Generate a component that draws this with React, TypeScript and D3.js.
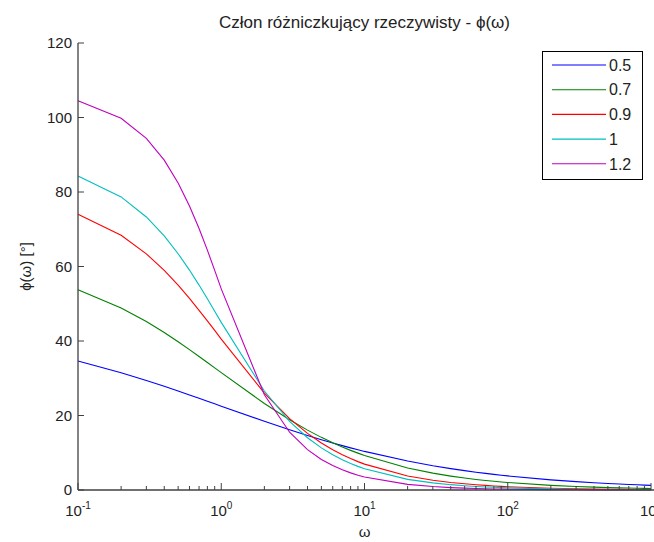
import React from "react";
import * as d3 from "d3";

const omega = [0.1,0.2,0.3,0.4,0.5,0.6,0.7,0.8,0.9,1,2,3,4,5,6,7,8,9,10,20,30,40,50,60,70,80,90,100,200,300,400,500,600,700,800,900,1000];
const phi05 = [34.64,31.49,29.40,27.83,26.57,25.51,24.61,23.82,23.13,22.50,18.43,16.17,14.64,13.51,12.63,11.91,11.31,10.80,10.36,7.78,6.52,5.74,5.19,4.78,4.46,4.19,3.97,3.78,2.73,2.25,1.96,1.76,1.61,1.49,1.40,1.32,1.25];
const phi07 = [53.74,48.86,45.21,42.27,39.80,37.69,35.85,34.23,32.80,31.50,23.21,18.84,16.07,14.13,12.68,11.55,10.64,9.90,9.26,5.92,4.52,3.73,3.20,2.83,2.55,2.33,2.15,2.00,1.24,0.93,0.76,0.65,0.58,0.52,0.47,0.43,0.40];
const phi09 = [74.05,68.38,63.39,58.94,54.97,51.42,48.24,45.39,42.83,40.50,26.03,19.15,15.19,12.61,10.81,9.48,8.45,7.62,6.95,3.77,2.63,2.03,1.67,1.41,1.23,1.09,0.98,0.89,0.48,0.33,0.26,0.21,0.18,0.16,0.14,0.12,0.11];
const phi10 = [84.29,78.69,73.30,68.20,63.43,59.04,55.01,51.34,48.01,45.00,26.57,18.43,14.04,11.31,9.46,8.13,7.13,6.34,5.71,2.86,1.91,1.43,1.15,0.95,0.82,0.72,0.64,0.57,0.29,0.19,0.14,0.11,0.10,0.08,0.07,0.06,0.06];
const phi12 = [104.50,99.79,94.40,88.56,82.44,76.25,70.18,64.39,58.97,54.00,25.56,15.50,10.84,8.21,6.56,5.42,4.60,3.98,3.50,1.51,0.93,0.65,0.50,0.40,0.33,0.28,0.25,0.22,0.09,0.06,0.04,0.03,0.03,0.02,0.02,0.02,0.01];

const seriesNames = ["0.5", "0.7", "0.9", "1", "1.2"];
const seriesValues = [phi05, phi07, phi09, phi10, phi12];
const seriesColors = ["#0000ff", "#008000", "#ff0000", "#00bfbf", "#bf00bf"];

const yTicks = [0, 20, 40, 60, 80, 100, 120];
const xMajor = [-1, 0, 1, 2, 3];

const title = "Człon różniczkujący rzeczywisty - ϕ(ω)";
const xLabel = "ω";
const yLabel = "ϕ(ω) [°]";

const W = 654, H = 542;
const L = 78, R = 651, T = 43, B = 490;
const FONT = "Arial, 'Liberation Sans', Helvetica, sans-serif";

export default function App() {
  const x = d3.scaleLog().domain([0.1, 1000]).range([L, R]);
  const y = d3.scaleLinear().domain([0, 120]).range([B, T]);
  const line = d3.line<[number, number]>().x(d => x(d[0])).y(d => y(d[1]));

  const minor: number[] = [];
  for (let e = -1; e < 3; e++) {
    for (let k = 2; k <= 9; k++) minor.push(k * Math.pow(10, e));
  }

  const axisColor = "#404040";
  const legX = 542.5, legY = 51.5, legW = 100, legH = 128;

  return (
    <svg width={W} height={H} style={{ position: "absolute", left: 0, top: 0, background: "#fff" }}
      fontFamily={FONT}>
      <rect x={0} y={0} width={W} height={H} fill="#fff" />
      {seriesValues.map((vals, i) => (
        <path key={i} d={line(omega.map((w, j) => [w, vals[j]] as [number, number])) || ""}
          fill="none" stroke={seriesColors[i]} strokeWidth={1.1} />
      ))}
      {/* axes */}
      <line x1={L} x2={L} y1={T} y2={B} stroke={axisColor} strokeWidth={1.3} />
      <line x1={L} x2={R + 5} y1={B} y2={B} stroke={axisColor} strokeWidth={1.3} />
      {yTicks.map(t => (
        <g key={t}>
          <line x1={L} x2={L + 6} y1={y(t)} y2={y(t)} stroke={axisColor} strokeWidth={1} />
          <text x={L - 6} y={y(t)} dy="0.35em" textAnchor="end" fontSize={15} fill="#222">{t}</text>
        </g>
      ))}
      {minor.map((m, i) => (
        <line key={i} x1={x(m)} x2={x(m)} y1={B} y2={B - 4} stroke={axisColor} strokeWidth={1} />
      ))}
      {xMajor.map(e => (
        <g key={e}>
          <line x1={x(Math.pow(10, e))} x2={x(Math.pow(10, e))} y1={B} y2={B - 7} stroke={axisColor} strokeWidth={1} />
          <text x={x(Math.pow(10, e))} y={B + 26} textAnchor="middle" fontSize={15} fill="#222">
            10<tspan fontSize={10} dy={-7}>{e}</tspan>
          </text>
        </g>
      ))}
      <text x={(L + R) / 2} y={B + 47} textAnchor="middle" fontSize={15} fill="#222">{xLabel}</text>
      <text x={(L + R) / 2} y={28} textAnchor="middle" fontSize={17} fill="#222">{title}</text>
      <text transform={`translate(31, ${(T + B) / 2}) rotate(-90)`} textAnchor="middle" fontSize={15} fill="#222">{yLabel}</text>
      {/* legend */}
      <rect x={legX} y={legY} width={legW} height={legH} fill="#fff" stroke="#000" strokeWidth={1} />
      {seriesNames.map((n, i) => {
        const ly = 65 + i * 24.7;
        return (
          <g key={n}>
            <line x1={552} x2={606} y1={ly} y2={ly} stroke={seriesColors[i]} strokeWidth={1.1} />
            <text x={609} y={ly} dy="0.36em" fontSize={16} fill="#222">{n}</text>
          </g>
        );
      })}
    </svg>
  );
}
